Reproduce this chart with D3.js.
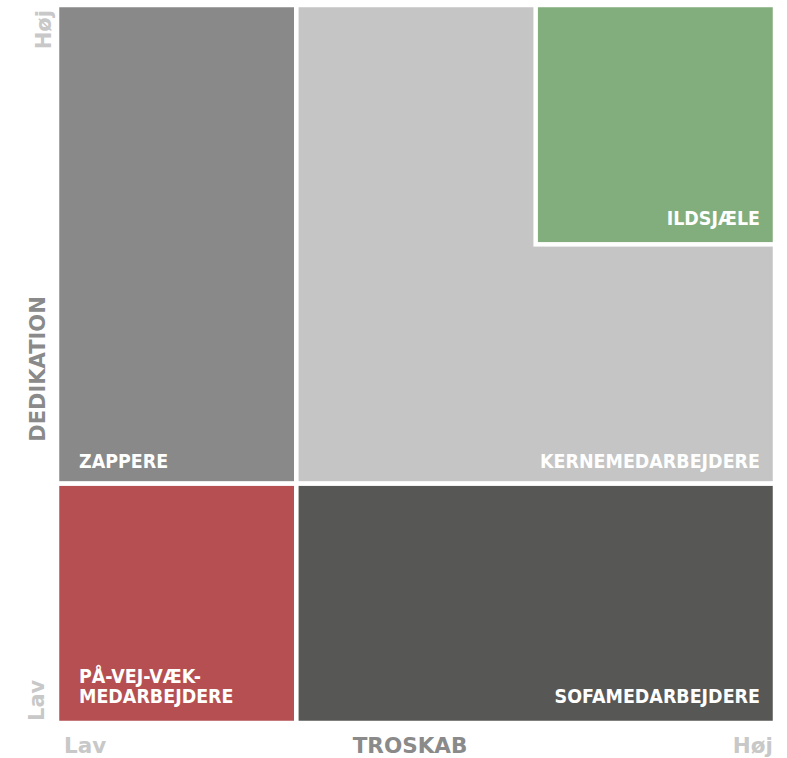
<!DOCTYPE html>
<html>
<head>
<meta charset="utf-8">
<script src="https://cdn.jsdelivr.net/npm/d3@7"></script>
<style>
  body { margin: 0; background: #fff; }
  text { font-family: "DejaVu Sans", sans-serif; font-weight: bold; }
</style>
</head>
<body>
<script>
const width = 787;
const height = 758;

// segmenter (troskab x0..x1, dedikation y0..y1 på en 0-3 skala)
const segments = ["ZAPPERE", "KERNEMEDARBEJDERE", "ILDSJÆLE", "PÅ-VEJ-VÆK-\nMEDARBEJDERE", "SOFAMEDARBEJDERE"];
const troskabFra = [0, 1, 2, 0, 1];
const troskabTil = [1, 3, 3, 1, 3];
const dedikationFra = [1, 1, 2, 0, 0];
const dedikationTil = [3, 3, 3, 1, 1];
const farver = ["#898989", "#c4c5c4", "#82ad7c", "#b54f52", "#575756"];
const labelSide = ["left", "right", "right", "left", "right"];

const aksLav = "Lav";
const aksHoj = "Høj";
const xTitel = "TROSKAB";
const yTitel = "DEDIKATION";

const data = segments.map((s, i) => ({
    navn: s, x0: troskabFra[i], x1: troskabTil[i],
    y0: dedikationFra[i], y1: dedikationTil[i],
    farve: farver[i], side: labelSide[i]
}));

const x = d3.scaleLinear().domain([0, 3]).range([57, 775]);
const y = d3.scaleLinear().domain([0, 3]).range([723, 5]);

// afstand fra feltets bund til tekstens grundlinje
const bundAfstand = {0: 20, 1: 16, 2: 19};

const svg = d3.select("body")
    .append("svg")
    .attr("width", width)
    .attr("height", height);

// felter
svg.selectAll("rect.felt")
    .data(data)
    .enter()
    .append("rect")
    .attr("class", "felt")
    .attr("x", d => x(d.x0))
    .attr("y", d => y(d.y1))
    .attr("width", d => x(d.x1) - x(d.x0))
    .attr("height", d => y(d.y0) - y(d.y1))
    .attr("fill", d => d.farve)
    .attr("stroke", "#fff")
    .attr("stroke-width", 4.5);

// labels i felterne
svg.selectAll("g.lbl")
    .data(data)
    .enter()
    .append("g")
    .attr("class", "lbl")
    .each(function(d) {
        const lines = d.navn.split("\n");
        const tx = d.side === "left" ? x(d.x0) + 22 : x(d.x1) - 15;
        const base = y(d.y0) - bundAfstand[d.y0];
        d3.select(this).selectAll("text")
            .data(lines)
            .enter()
            .append("text")
            .attr("transform", (l, i) => `translate(${tx},${base - (lines.length - 1 - i) * 20.5}) scale(1,1.15)`)
            .attr("text-anchor", d.side === "left" ? "start" : "end")
            .attr("fill", "#fff")
            .attr("font-size", 17.5)
            .text(l => l);
    });

// akser
svg.append("text")
    .attr("x", 64).attr("y", 753)
    .attr("fill", "#c8c8c8").attr("font-size", 21.5)
    .text(aksLav);
svg.append("text")
    .attr("x", 773).attr("y", 753)
    .attr("text-anchor", "end")
    .attr("fill", "#c8c8c8").attr("font-size", 21.5)
    .text(aksHoj);
svg.append("text")
    .attr("x", 410).attr("y", 753)
    .attr("text-anchor", "middle")
    .attr("fill", "#8a8a8a").attr("font-size", 21.5)
    .text(xTitel);

svg.append("text")
    .attr("transform", `translate(44,721) rotate(-90)`)
    .attr("fill", "#c8c8c8").attr("font-size", 21)
    .text(aksLav);
svg.append("text")
    .attr("transform", `translate(51,10) rotate(-90)`)
    .attr("text-anchor", "end")
    .attr("fill", "#c8c8c8").attr("font-size", 21)
    .text(aksHoj);
svg.append("text")
    .attr("transform", `translate(45,369) rotate(-90)`)
    .attr("text-anchor", "middle")
    .attr("fill", "#8a8a8a").attr("font-size", 21)
    .text(yTitel);
</script>
</body>
</html>
